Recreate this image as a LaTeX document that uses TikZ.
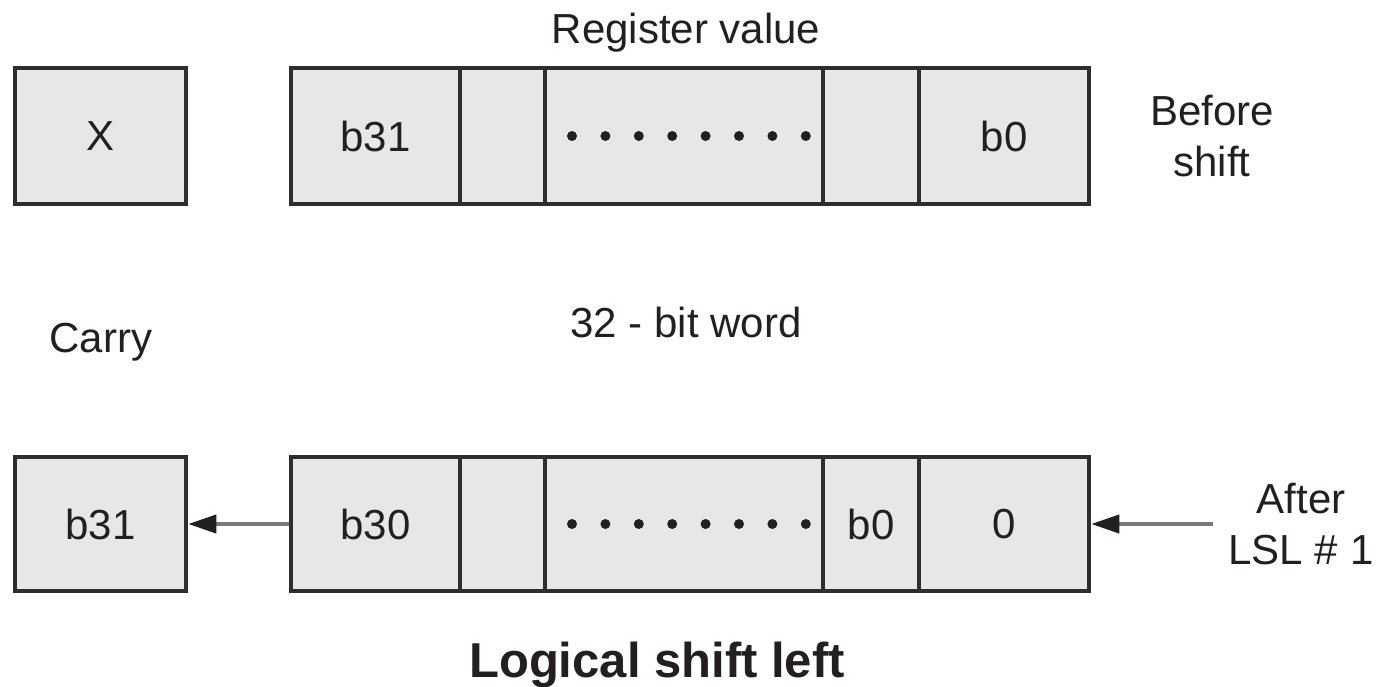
\documentclass[tikz,border=0pt]{standalone}
\usepackage{fontspec}
\setmainfont{Liberation Sans}
\usetikzlibrary{arrows.meta}
\definecolor{cellgray}{HTML}{E6E7E8}
\definecolor{edgegray}{HTML}{2E2E2E}
\definecolor{wiregray}{HTML}{7A7A7A}
\definecolor{inkblack}{HTML}{231F20}

\begin{document}
\begin{tikzpicture}[x=1pt,y=-1pt,
  cell/.style={draw=edgegray, fill=cellgray, line width=4.5pt, inner sep=0pt,
    font=\fontsize{42}{51}\selectfont, text=inkblack},
  toprow/.style={cell, minimum height=136pt},
  botrow/.style={cell, minimum height=134pt},
  lbl/.style={inner sep=0pt, font=\fontsize{42}{51}\selectfont, text=inkblack, align=center},
  shiftarrow/.style={draw=wiregray, line width=4pt,
    -{Triangle[length=28pt,width=18pt,color=inkblack]}}]
\useasboundingbox (0,0) rectangle (1379,686);

%%%BEFORE SHIFT
\node[toprow, minimum width=171pt] (cx) at (100.5,136) {X};
\node[toprow, minimum width=169pt] (r1c1) at (375.5,136) {b31};
\node[toprow, minimum width=85pt]  (r1c2) at (502.5,136) {};
\node[toprow, minimum width=278pt] (r1c3) at (684,136) {};
\node[toprow, minimum width=96pt]  (r1c4) at (871,136) {};
\node[toprow, minimum width=170pt] (r1c5) at (1004,136) {b0};

%%%AFTER SHIFT
\node[botrow, minimum width=171pt] (cy) at (100.5,524) {b31};
\node[botrow, minimum width=169pt] (r2c1) at (375.5,524) {b30};
\node[botrow, minimum width=85pt]  (r2c2) at (502.5,524) {};
\node[botrow, minimum width=278pt] (r2c3) at (684,524) {};
\node[botrow, minimum width=96pt]  (r2c4) at (871,524) {b0};
\node[botrow, minimum width=170pt] (r2c5) at (1004,524) {0};

%%%DOTS
\foreach \k in {0,...,7} {
  \fill[inkblack] (572+33.4*\k,136) circle (5pt);
  \fill[inkblack] (572+33.4*\k,524) circle (5pt);
}

%%%LABELS
\node[lbl, anchor=base] (regval) at (686,43) {Register value};
\node[lbl] (before) at (1212,136) {Before\\shift};
\node[lbl, anchor=base] (carry) at (101,352) {Carry};
\node[lbl, anchor=base] (word) at (686,337) {32 - bit word};
\node[lbl] (after) at (1301,524) {After\\LSL \# 1};
\node[lbl, anchor=base, font=\fontsize{49}{58}\selectfont\bfseries] (title) at (657,677) {Logical shift left};

%%%SHIFT ARROWS
\coordinate (lslin) at (1213,524);
\draw[shiftarrow] (r2c1.west) -- (cy.east);
\draw[shiftarrow] (lslin) -- (r2c5.east);
\end{tikzpicture}
\end{document}
